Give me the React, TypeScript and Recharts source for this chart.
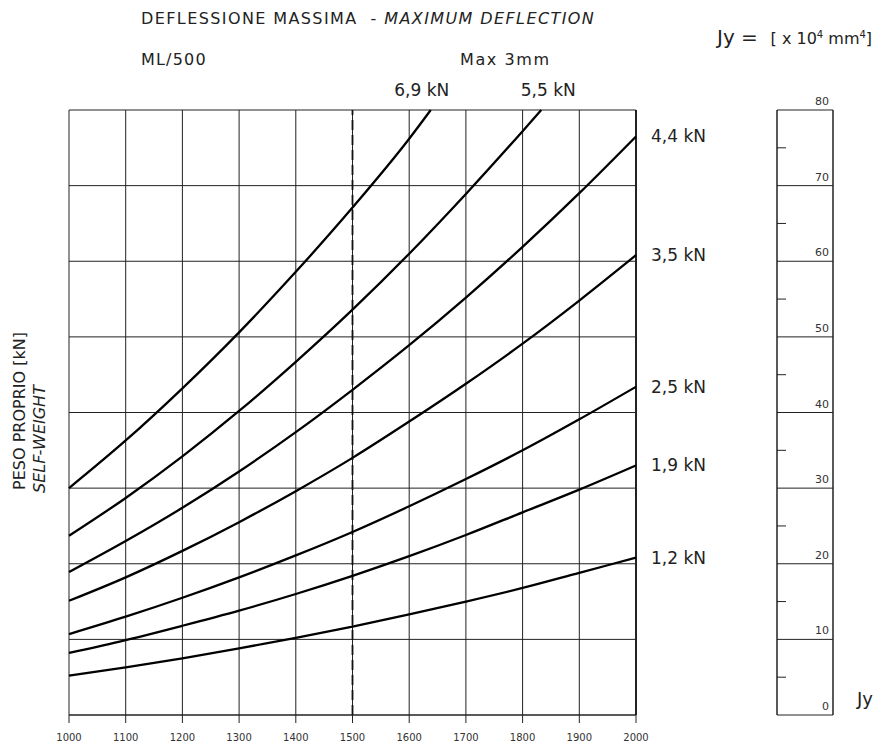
import { LineChart, Line, XAxis, YAxis, CartesianGrid, ReferenceLine, LabelList } from 'recharts';

const FONT = '"DejaVu Sans", sans-serif';

// span [mm] along the x axis
const LENGTHS = [1000, 1100, 1200, 1300, 1400, 1500, 1600, 1700, 1800, 1900, 2000];
// the two heaviest curves leave the grid through the top edge
const LENGTHS_55 = [1000, 1100, 1200, 1300, 1400, 1500, 1600, 1700, 1800, 1833];
const LENGTHS_69 = [1000, 1100, 1200, 1300, 1400, 1500, 1600, 1638];

// Jy [x 10^4 mm^4] read for each self-weight
const JY_12 = [5.2, 6.3, 7.5, 8.8, 10.2, 11.7, 13.3, 15.0, 16.8, 18.8, 20.8];
const JY_19 = [8.2, 9.9, 11.8, 13.8, 16.0, 18.4, 21.0, 23.8, 26.8, 29.8, 33.0];
const JY_25 = [10.7, 13.0, 15.5, 18.2, 21.1, 24.2, 27.6, 31.2, 35.0, 39.1, 43.4];
const JY_35 = [15.1, 18.2, 21.7, 25.5, 29.6, 34.0, 38.8, 43.8, 49.1, 54.8, 60.8];
const JY_44 = [18.9, 23.0, 27.4, 32.2, 37.4, 43.0, 48.9, 55.2, 61.9, 69.0, 76.5];
const JY_55 = [23.7, 28.7, 34.2, 40.2, 46.7, 53.6, 61.0, 68.9, 77.2, 80];
const JY_69 = [30.0, 36.3, 43.2, 50.6, 58.6, 67.1, 76.2, 80];

const LOAD_LABELS = ['1,2 kN', '1,9 kN', '2,5 kN', '3,5 kN', '4,4 kN', '5,5 kN', '6,9 kN'];

const JY_TICKS = [0, 10, 20, 30, 40, 50, 60, 70, 80];
const JY_MINOR = [5, 15, 25, 35, 45, 55, 65, 75];
const DEFLECTION_LIMIT = 1500;

const series = [
  { lengths: LENGTHS, values: JY_12 },
  { lengths: LENGTHS, values: JY_19 },
  { lengths: LENGTHS, values: JY_25 },
  { lengths: LENGTHS, values: JY_35 },
  { lengths: LENGTHS, values: JY_44 },
  { lengths: LENGTHS_55, values: JY_55 },
  { lengths: LENGTHS_69, values: JY_69 },
].map((s, i) => ({
  name: LOAD_LABELS[i],
  data: s.lengths.map((L, j) => ({ L, jy: s.values[j] })),
}));

// scale column data (only used to give its axes something to hang on)
const scaleData = JY_TICKS.map((jy) => ({ pos: 0, jy }));

// where each curve label sits relative to the curve end
const labelOffsets = [
  { dx: 15, dy: 6, anchor: 'start' },
  { dx: 15, dy: 6, anchor: 'start' },
  { dx: 15, dy: 6, anchor: 'start' },
  { dx: 15, dy: 6, anchor: 'start' },
  { dx: 15, dy: 6, anchor: 'start' },
  { dx: 7, dy: -14, anchor: 'middle' },
  { dx: -9, dy: -14, anchor: 'middle' },
];

function endLabel(idx: number, total: number) {
  const off = labelOffsets[idx];
  return (props: any) => {
    if (props.index !== total - 1) return null;
    return (
      <text
        x={props.x + off.dx}
        y={props.y + off.dy}
        textAnchor={off.anchor}
        fontSize={17}
        fontFamily={FONT}
        fill="#222"
      >
        {LOAD_LABELS[idx]}
      </text>
    );
  };
}

const txt = (style: React.CSSProperties): React.CSSProperties => ({
  position: 'absolute',
  fontFamily: FONT,
  color: '#222',
  whiteSpace: 'nowrap',
  lineHeight: 1,
  ...style,
});

function JyTick(props: any) {
  const { x, y, payload } = props;
  return (
    <text x={x - 4} y={y - 5} textAnchor="end" fontSize={11} fontFamily={FONT} fill="#333">
      {payload.value}
    </text>
  );
}

function MinorTick(props: any) {
  const { x, y } = props;
  return <line x1={x} x2={x + 9} y1={y} y2={y} stroke="#222" strokeWidth={1} />;
}

export default function App() {
  return (
    <div style={{ position: 'absolute', left: 0, top: 0, width: 886, height: 747, background: '#fff' }}>
      <div style={{ position: 'absolute', left: 0, top: 0 }}>
        <LineChart width={886} height={747} margin={{ top: 110, right: 250, bottom: 0, left: 69 }}>
          <CartesianGrid stroke="#222" strokeWidth={1} />
          <XAxis
            type="number"
            dataKey="L"
            domain={[1000, 2000]}
            ticks={LENGTHS}
            allowDuplicatedCategory={false}
            height={32}
            tickSize={8}
            tickMargin={11}
            axisLine={{ stroke: '#222' }}
            tickLine={{ stroke: '#222' }}
            tick={{ fontSize: 10, fontFamily: FONT, fill: '#333' }}
            interval={0}
          />
          <YAxis type="number" domain={[0, 80]} ticks={JY_TICKS} hide width={0} />
          <ReferenceLine x={2000} stroke="#222" strokeWidth={2} />
          <ReferenceLine x={DEFLECTION_LIMIT} stroke="#111" strokeWidth={1.8} strokeDasharray="10 5" />
          {series.map((s, i) => (
            <Line
              key={s.name}
              data={s.data}
              dataKey="jy"
              type="monotone"
              stroke="#000"
              strokeWidth={2.3}
              dot={false}
              isAnimationActive={false}
            >
              <LabelList dataKey="jy" content={endLabel(i, s.data.length)} />
            </Line>
          ))}
        </LineChart>
      </div>

      <div style={{ position: 'absolute', left: 0, top: 0 }}>
        <LineChart
          width={886}
          height={747}
          data={scaleData}
          margin={{ top: 110, right: 53, bottom: 32, left: 777 }}
        >
          <CartesianGrid stroke="#222" vertical={false} yAxisId="jy" />
          <XAxis type="number" dataKey="pos" domain={[0, 1]} hide />
          <YAxis
            yAxisId="minor"
            type="number"
            domain={[0, 80]}
            ticks={JY_MINOR}
            width={30}
            mirror
            tickLine={false}
            tickSize={0}
            tickMargin={0}
            tick={<MinorTick />}
            axisLine={{ stroke: '#222', strokeWidth: 1.5 }}
          />
          <YAxis
            yAxisId="jy"
            orientation="right"
            type="number"
            domain={[0, 80]}
            ticks={JY_TICKS}
            width={30}
            mirror
            tickLine={false}
            tickSize={0}
            tickMargin={0}
            axisLine={{ stroke: '#222', strokeWidth: 1.5 }}
            tick={<JyTick />}
          />
          <Line yAxisId="minor" dataKey="jy" stroke="none" dot={false} isAnimationActive={false} />
          <Line yAxisId="jy" dataKey="jy" stroke="none" dot={false} isAnimationActive={false} />
        </LineChart>
      </div>

      <div style={txt({ left: 141, top: 11, fontSize: 16, letterSpacing: 1.4 })}>
        DEFLESSIONE MASSIMA&nbsp; - <i>MAXIMUM DEFLECTION</i>
      </div>
      <div style={txt({ left: 141, top: 52, fontSize: 16, letterSpacing: 1.2 })}>ML/500</div>
      <div style={txt({ left: 460, top: 52, fontSize: 16, letterSpacing: 1.6 })}>Max 3mm</div>
      <div style={txt({ left: 717, top: 27, fontSize: 20 })}>
        Jy =&nbsp;&nbsp;
        <span style={{ fontSize: 16 }}>
          [ x 10<sup style={{ fontSize: 10 }}>4</sup> mm<sup style={{ fontSize: 10 }}>4</sup>]
        </span>
      </div>
      <div style={txt({ left: 857, top: 690, fontSize: 18 })}>Jy</div>
      <div
        style={txt({
          left: 20,
          top: 411,
          fontSize: 16,
          transform: 'translate(-50%, -50%) rotate(-90deg)',
        })}
      >
        PESO PROPRIO [kN]
      </div>
      <div
        style={txt({
          left: 40,
          top: 439,
          fontSize: 16,
          fontStyle: 'italic',
          transform: 'translate(-50%, -50%) rotate(-90deg)',
        })}
      >
        SELF-WEIGHT
      </div>
    </div>
  );
}
